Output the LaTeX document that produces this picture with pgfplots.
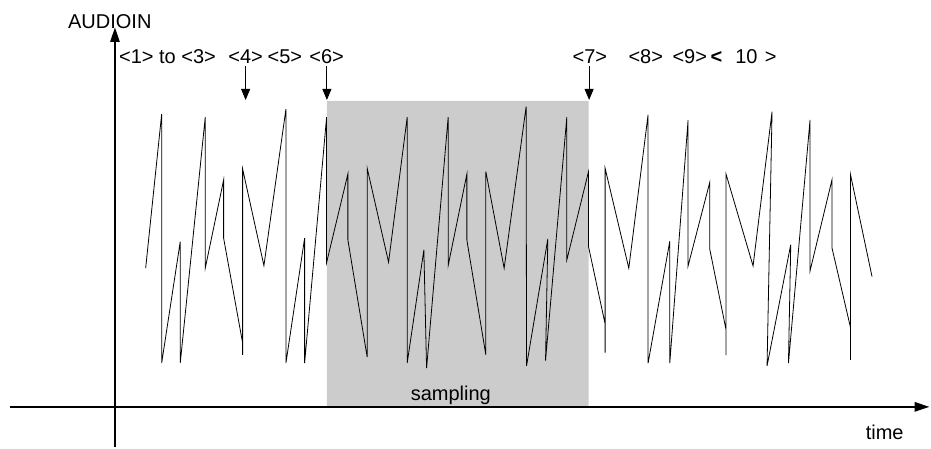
\documentclass[border=0pt]{standalone}
\usepackage{fontspec}
\setmainfont{Liberation Sans}
\usepackage{pgfplots}
\pgfplotsset{compat=1.18}
\usetikzlibrary{arrows.meta}

\begin{document}
\begin{tikzpicture}[every node/.append style={font=\fontsize{20}{23}\selectfont, inner sep=0pt}]
\begin{axis}[scale only axis, width=931pt, height=449pt,
  xmin=-117, xmax=814, ymin=-42, ymax=407,
  hide axis, clip=false]
\path (axis cs:-117,-42) rectangle (axis cs:814,407);
% sampling window
\addplot[fill=black!20, draw=none] coordinates {(210,0) (210,306) (471.7,306) (471.7,0)} \closedcycle;
% audio signal
\addplot[black, line width=0.8pt, mark=none] coordinates {
(28.7,138.7) (44.7,292.7) (44.7,43.7) (63.3,165.3) (63.3,43.7)
(88.3,289.7) (88.3,138.7) (106.7,227) (106.7,168.7) (125.7,64)
(125.7,52) (125.7,238) (147,141.3) (169,297.7) (169,43.7)
(187.7,168.7) (187.7,43.7) (209.7,289.7) (209.7,144.3) (231,233)
(231,167) (250.3,49.7) (250.3,238.7) (271.7,144.7) (290.3,289.7)
(290.3,43.7) (307,157) (309.7,38.7) (331.3,289.7) (331.3,141.3)
(350,232.7) (350,167) (369,52) (369,235.3) (387.3,138.7)
(409.3,300.3) (409.7,41) (431,168) (428.7,46.3) (450,289.7)
(450,147) (471.7,235.3) (471.7,160.3) (488.3,83) (488.3,54.3)
(488.3,238.7) (512,138.7) (531.3,292.3) (531.3,43.7) (553,165.7)
(553,43.7) (571.3,287) (571.3,141) (593,224.7) (593,157.7)
(609.3,77) (609.3,51.7) (609.3,232.7) (636.3,141) (655.3,295.3)
(650.3,41) (674,162.3) (671.7,43.7) (693.3,287) (693.3,136)
(715.3,227.3) (715.3,158.7) (733.7,79.7) (733.7,47) (733.7,232.7)
(755.3,130.3)
};
% axes
\draw[line width=2.6pt, -{Triangle[length=15pt,width=9pt]}] (axis cs:-107,0) -- (axis cs:813,0);
\draw[line width=2.6pt, -{Triangle[length=15pt,width=9pt]}] (axis cs:-2,-40) -- (axis cs:-2,380);
% marker arrows
\draw[line width=0.8pt, -{Triangle[length=11pt,width=9pt]}] (axis cs:128.7,341) -- (axis cs:128.7,307);
\draw[line width=0.8pt, -{Triangle[length=11pt,width=9pt]}] (axis cs:210,341) -- (axis cs:210,307);
\draw[line width=0.8pt, -{Triangle[length=11pt,width=9pt]}] (axis cs:472.3,341) -- (axis cs:472.3,307);
% labels
\node[anchor=base east] at (axis cs:34.7,378.7) {AUDIOIN};
\node[anchor=base west] at (axis cs:2,343.7) {<1> to <3>};
\node[anchor=base] at (axis cs:128.7,343.7) {<4>};
\node[anchor=base] at (axis cs:168,343.7) {<5>};
\node[anchor=base] at (axis cs:209.7,343.7) {<6>};
\node[anchor=base] at (axis cs:473,343.7) {<7>};
\node[anchor=base] at (axis cs:529,343.7) {<8>};
\node[anchor=base] at (axis cs:573,343.7) {<9>};
\node[anchor=base] at (axis cs:599.7,343.7) {\textbf{<}};
\node[anchor=base] at (axis cs:629.7,343.7) {10};
\node[anchor=base] at (axis cs:654,343.7) {>};
\node[anchor=base] at (axis cs:334,6.3) {sampling};
\node[anchor=base] at (axis cs:768,-33) {time};
\end{axis}
\end{tikzpicture}
\end{document}
